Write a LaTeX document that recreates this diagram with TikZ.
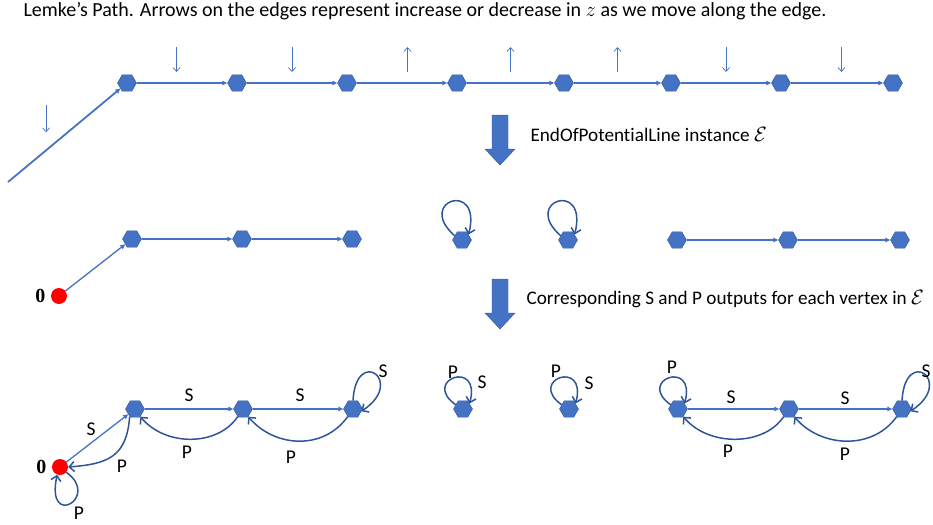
\documentclass[tikz,border=0pt]{standalone}
\usepackage{fontspec}
\setmainfont{Carlito}[Ligatures=NoCommon]
\newfontfamily\zerofont{Liberation Serif}
\usepackage{amsmath}
\usetikzlibrary{shapes.geometric, arrows.meta, positioning, calc}
\definecolor{hexblue}{HTML}{4472C4}
\definecolor{hexedge}{HTML}{2F5597}
\definecolor{loopblue}{HTML}{2F5597}
\definecolor{dotred}{HTML}{FF0000}

\begin{document}
\begin{tikzpicture}[
    x=1pt, y=-1pt,
    vertex/.style={regular polygon, regular polygon sides=6, draw=hexedge, line width=0.4pt, fill=hexblue, minimum size=19pt, inner sep=0pt},
    origin/.style={circle, fill=dotred, minimum size=16pt, inner sep=0pt},
    edge/.style={-{Triangle[length=5pt,width=4.5pt]}, line width=1.8pt, color=hexblue},
    thinedge/.style={-{Triangle[length=5pt,width=4.5pt]}, line width=1.3pt, color=hexblue},
    zarrow/.style={-{Straight Barb[length=4pt,width=7pt]}, line width=0.7pt, color=hexblue},
    back/.style={-{Straight Barb[length=5pt,width=10pt]}, line width=1.5pt, color=loopblue},
    lbl/.style={font=\fontsize{19.5}{20}\selectfont},
    txt/.style={font=\fontsize{20}{24}\selectfont, anchor=base west},
    steptxt/.style={font=\fontsize{19.2}{24}\selectfont, anchor=base west},
    zero/.style={font=\fontsize{20}{20}\selectfont\zerofont\bfseries},
    bigarrow/.style={fill=hexblue, draw=hexedge, line width=0.4pt}
]
\useasboundingbox (0,0) rectangle (933,524);

% Title
\node[txt] (title) at (20,17) {Lemke’s Path. Arrows on the edges represent increase or decrease in $z$ as we move along the edge.};

% Lemke's path
\coordinate (t0) at (8,182);
\node[vertex] (t1) at (127,83) {};
\node[vertex] (t2) at (237,83) {};
\node[vertex] (t3) at (347,83) {};
\node[vertex] (t4) at (457,83) {};
\node[vertex] (t5) at (564,83) {};
\node[vertex] (t6) at (671,83) {};
\node[vertex] (t7) at (781,83) {};
\node[vertex] (t8) at (893,83) {};

\draw[edge] (t0) -- (t1);
\draw[edge] (t1) -- (t2);
\draw[edge] (t2) -- (t3);
\draw[edge] (t3) -- (t4);
\draw[edge] (t4) -- (t5);
\draw[edge] (t5) -- (t6);
\draw[edge] (t6) -- (t7);
\draw[edge] (t7) -- (t8);

% change of z along each edge
\draw[zarrow] ($(t0)!0.32!(t1)+(0,-45)$) -- ++(0,27);
\draw[zarrow] ($(t1)!0.45!(t2)+(0,-36)$) -- ++(0,25);
\draw[zarrow] ($(t2)!0.5!(t3)+(0,-36)$) -- ++(0,25);
\draw[zarrow] ($(t3)!0.55!(t4)+(0,-11)$) -- ++(0,-25);
\draw[zarrow] ($(t4)!0.5!(t5)+(0,-11)$) -- ++(0,-25);
\draw[zarrow] ($(t5)!0.5!(t6)+(0,-11)$) -- ++(0,-25);
\draw[zarrow] ($(t6)!0.5!(t7)+(0,-36)$) -- ++(0,25);
\draw[zarrow] ($(t7)!0.54!(t8)+(0,-36)$) -- ++(0,25);

% first reduction
\draw[bigarrow] (492,115) -- (508,115) -- (508,149) -- (515,149) -- (500,165) -- (485,149) -- (492,149) -- cycle;
\node[steptxt] (step1) at (527,141) {EndOfPotentialLine instance $\mathcal{E}$};

% EndOfPotentialLine graph
\node[origin] (m0) at (59,296) {};
\node[zero, left=2pt of m0] (m0lbl) {0};
\node[vertex] (m1) at (132,239) {};
\node[vertex] (m2) at (242,239) {};
\node[vertex] (m3) at (352,239) {};
\draw[thinedge] (m0) -- (m1);
\draw[thinedge] (m1) -- (m2);
\draw[thinedge] (m2) -- (m3);

\node[vertex] (ma) at (462,240) {};
\node[vertex] (mb) at (568,240) {};
\draw[back] (ma.150) .. controls +(-40,-35) and +(14,-55) .. (ma.40);
\draw[back] (mb.150) .. controls +(-40,-35) and +(14,-55) .. (mb.40);

\node[vertex] (mc1) at (677,240) {};
\node[vertex] (mc2) at (788,240) {};
\node[vertex] (mc3) at (900,240) {};
\draw[thinedge] (mc1) -- (mc2);
\draw[thinedge] (mc2) -- (mc3);

% second reduction
\draw[bigarrow] (492,279) -- (508,279) -- (508,313) -- (515,313) -- (500,329) -- (485,313) -- (492,313) -- cycle;
\node[steptxt] (step2) at (523,304) {Corresponding S and P outputs for each vertex in $\mathcal{E}$};

% S and P circuits
\node[origin] (b0) at (60,467) {};
\node[zero, left=2pt of b0] (b0lbl) {0};
\node[vertex] (b1) at (135,409) {};
\node[vertex] (b2) at (243,409) {};
\node[vertex] (b3) at (353,409) {};

\draw[thinedge] (b0) -- (b1);
\draw[thinedge] (b1) -- (b2);
\draw[thinedge] (b2) -- (b3);
\draw[back] (b1.235) .. controls +(-3,40) and +(40,-3) .. (b0.east);
\draw[back] (b0.-40) .. controls +(35,25) and +(-12,55) .. (b0.-110);
\draw[back] (b2.235) .. controls +(-20,30) and +(25,30) .. (b1.305);
\draw[back] (b3.235) .. controls +(-25,35) and +(25,30) .. (b2.305);
\draw[back] (b3.north) .. controls +(3,-55) and +(45,-30) .. (b3.-15);

\node[lbl] (s01) at (91,429) {S};
\node[lbl] (p10) at (122,466) {P};
\node[lbl] (p00) at (79,513) {P};
\node[lbl] (s12) at (189,395) {S};
\node[lbl] (s23) at (300,395) {S};
\node[lbl] (s33) at (383,371) {S};
\node[lbl] (p21) at (187,452) {P};
\node[lbl] (p32) at (291,457) {P};

\node[vertex] (ba) at (463,409) {};
\node[vertex] (bb) at (569,409) {};
\draw[back] (ba.150) .. controls +(-35,-25) and +(12,-45) .. (ba.40);
\draw[back] (bb.150) .. controls +(-35,-25) and +(12,-45) .. (bb.40);
\node[lbl] (paa) at ($(ba)+(-10,-37)$) {P};
\node[lbl] (saa) at ($(ba)+(19,-27)$) {S};
\node[lbl] (pbb) at ($(bb)+(-13,-38)$) {P};
\node[lbl] (sbb) at ($(bb)+(20,-26)$) {S};

\node[vertex] (bc1) at (678,409) {};
\node[vertex] (bc2) at (789,409) {};
\node[vertex] (bc3) at (902,409) {};
\draw[thinedge] (bc1) -- (bc2);
\draw[thinedge] (bc2) -- (bc3);
\draw[back] (bc1.150) .. controls +(-35,-25) and +(12,-45) .. (bc1.40);
\draw[back] (bc2.235) .. controls +(-20,30) and +(25,30) .. (bc1.305);
\draw[back] (bc3.235) .. controls +(-25,35) and +(25,30) .. (bc2.305);
\draw[back] (bc3.north) .. controls +(3,-55) and +(45,-30) .. (bc3.-15);

\node[lbl] (pc11) at ($(bc1)+(-6,-42)$) {P};
\node[lbl] (sc12) at (731,397) {S};
\node[lbl] (sc23) at (845,398) {S};
\node[lbl] (pc21) at (728,451) {P};
\node[lbl] (pc32) at (845,454) {P};
\node[lbl] (sc33) at ($(bc3)+(24,-38)$) {S};

\end{tikzpicture}
\end{document}
